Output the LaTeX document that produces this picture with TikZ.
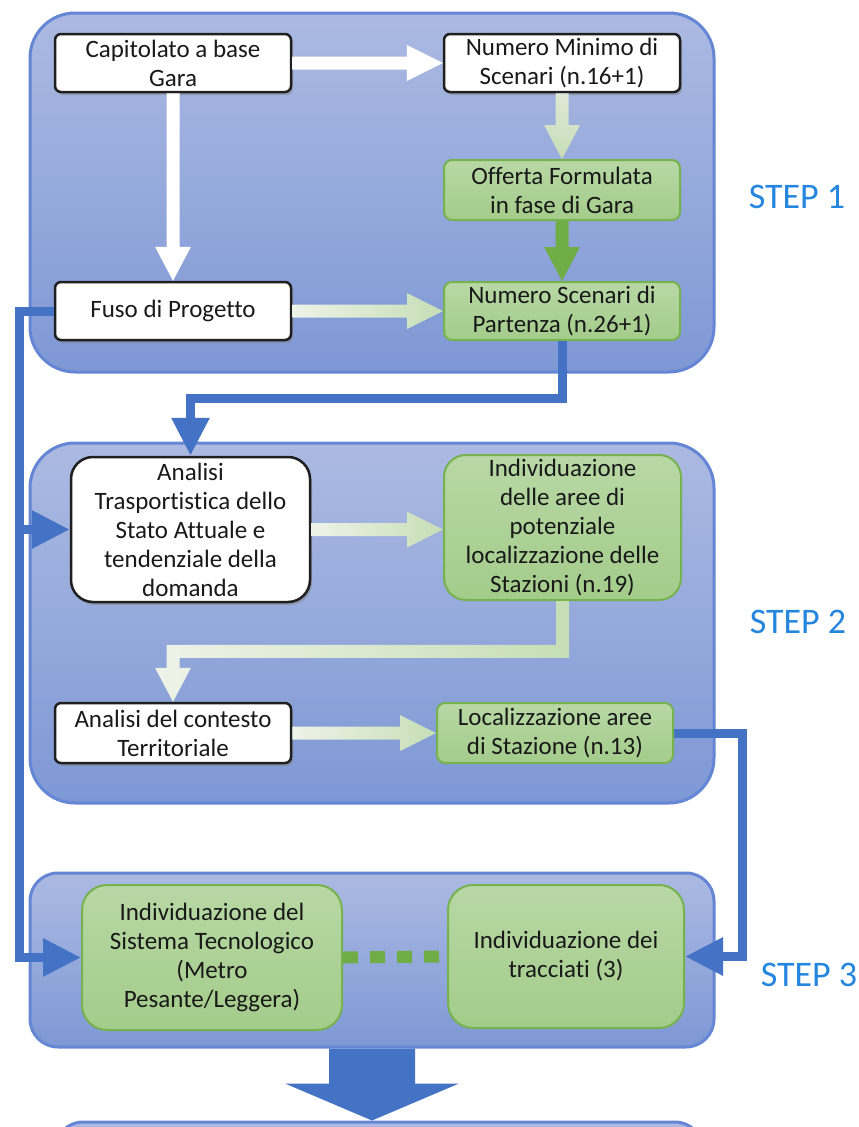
\documentclass[tikz,border=0pt]{standalone}
\usepackage{fontspec}
\setmainfont{Carlito}[Ligatures=NoCommon]
\usetikzlibrary{arrows.meta,calc,shadows}

\definecolor{bline}{RGB}{68,114,196}
\definecolor{ptop}{RGB}{172,186,226}
\definecolor{pbot}{RGB}{126,152,213}
\definecolor{pborder}{RGB}{100,134,212}
\definecolor{gtop}{RGB}{184,216,165}
\definecolor{gbot}{RGB}{163,204,138}
\definecolor{gborder}{RGB}{118,178,78}
\definecolor{gdark}{RGB}{112,173,71}
\definecolor{steptxt}{RGB}{36,134,222}
\definecolor{paleg}{RGB}{238,243,232}
\definecolor{midg}{RGB}{198,222,182}
\definecolor{topg}{RGB}{222,232,214}
\definecolor{txtc}{RGB}{25,25,25}

\newcommand\hfat[4]{\shade[left color=#3,right color=#4] let \p1=(#1.east),\p2=(#2.west) in (\x1,\y1+6.5pt) -- (\x2-36pt,\y1+6.5pt) -- (\x2-36pt,\y1+18pt) -- (\x2,\y1) -- (\x2-36pt,\y1-18pt) -- (\x2-36pt,\y1-6.5pt) -- (\x1,\y1-6.5pt) -- cycle;}
\newcommand\vfat[4]{\shade[top color=#3,bottom color=#4] let \p1=(#1.south),\p2=(#2.north) in (\x1-6.5pt,\y1) -- (\x1-6.5pt,\y2+34pt) -- (\x1-18pt,\y2+34pt) -- (\x1,\y2) -- (\x1+18pt,\y2+34pt) -- (\x1+6.5pt,\y2+34pt) -- (\x1+6.5pt,\y1) -- cycle;}

\begin{document}
\begin{tikzpicture}[x=1pt,y=-1pt,
  panel/.style={draw=pborder, line width=3pt, top color=ptop, bottom color=pbot, rounded corners=45pt, inner sep=0pt},
  txt/.style={font=\fontsize{25}{29}\selectfont, align=center, text=txtc, inner sep=0pt},
  whitebox/.style={txt, draw=black!88, line width=2.5pt, fill=white, rounded corners=6pt,
     drop shadow={shadow xshift=2pt, shadow yshift=-3pt, opacity=0.45}},
  greenbox/.style={txt, draw=gborder, line width=2pt, top color=gtop, bottom color=gbot, rounded corners=8pt},
  bluearrow/.style={draw=bline, line width=9pt, -{Triangle[width=36pt,length=38pt]}},
  steplbl/.style={font=\fontsize{36}{42}\selectfont, text=steptxt, inner sep=0pt}
]
\useasboundingbox (0,0) rectangle (859,1127);
\begin{scope}
\clip (0,0) rectangle (859,1127);

% panels
\node[panel, minimum width=684pt, minimum height=359pt] (p1) at (372,192.5) {};
\node[panel, minimum width=684pt, minimum height=360pt] (p2) at (372,623) {};
\node[panel, rounded corners=28pt, minimum width=684pt, minimum height=174pt] (p3) at (372,960) {};
\node[panel, rounded corners=28pt, minimum width=648pt, minimum height=178pt] (p4) at (379,1211) {};

% step labels
\node[steplbl] (s1) at (797,197) {STEP 1};
\node[steplbl] (s2) at (798,622) {STEP 2};
\node[steplbl] (s3) at (809,975) {STEP 3};

% step 1 nodes
\node[whitebox, minimum width=236pt, minimum height=58pt] (cap) at (173,63) {Capitolato a base\\Gara};
\node[whitebox, minimum width=236pt, minimum height=58pt] (nmin) at (562,63) {Numero Minimo di\\Scenari (n.16+1)};
\node[greenbox, minimum width=236pt, minimum height=60pt] (off) at (562,190) {Offerta Formulata\\in fase di Gara};
\node[whitebox, minimum width=236pt, minimum height=58pt] (fuso) at (173,311) {Fuso di Progetto};
\node[greenbox, minimum width=236pt, minimum height=58pt] (nsp) at (562,311) {Numero Scenari di\\Partenza (n.26+1)};

% step 2 nodes
\node[whitebox, rounded corners=22pt, minimum width=239pt, minimum height=145pt] (ana) at (190.5,529.5) {Analisi\\Trasportistica dello\\Stato Attuale e\\tendenziale della\\domanda};
\node[greenbox, rounded corners=22pt, minimum width=237pt, minimum height=145pt] (ind) at (562.5,527.5) {Individuazione\\delle aree di\\potenziale\\localizzazione delle\\Stazioni (n.19)};
\node[whitebox, minimum width=236pt, minimum height=60pt] (con) at (173,733) {Analisi del contesto\\Territoriale};
\node[greenbox, minimum width=236pt, minimum height=60pt] (loc) at (555,733) {Localizzazione aree\\di Stazione (n.13)};

% step 3 nodes
\node[greenbox, rounded corners=25pt, minimum width=260pt, minimum height=145pt] (sis) at (212,957.5) {Individuazione del\\Sistema Tecnologico\\(Metro\\Pesante/Leggera)};
\node[greenbox, rounded corners=25pt, minimum width=236pt, minimum height=143pt] (tra) at (566,956.5) {Individuazione dei\\tracciati (3)};

% fat arrows step 1
\hfat{cap}{nmin}{white}{white}
\vfat{cap}{fuso}{white}{white}
\vfat{nmin}{off}{topg}{midg}
\vfat{off}{nsp}{gdark}{gdark}
\hfat{fuso}{nsp}{paleg}{midg}

% fat arrows step 2
\hfat{ana}{ind}{paleg}{midg}
\hfat{con}{loc}{paleg}{midg}
\shade[left color=paleg, right color=midg] let \p1=(ind.south), \p2=(con.north), \p3=($(ind.south)!0.5!(con.north)$) in
  (\x1+6.5pt,\y1) -- (\x1+6.5pt,\y3-6.5pt) -- (\x2+6.5pt,\y3-6.5pt) -- (\x2+6.5pt,\y2+34pt) -- (\x2+18pt,\y2+34pt) -- (\x2,\y2)
  -- (\x2-18pt,\y2+34pt) -- (\x2-6.5pt,\y2+34pt) -- (\x2-6.5pt,\y3+6.5pt) -- (\x1-6.5pt,\y3+6.5pt) -- (\x1-6.5pt,\y1) -- cycle;

% dotted link step 3
\draw[gdark, line width=12pt, dash pattern=on 15pt off 12pt] (sis.east) -- (tra.west);

% blue connectors
\coordinate (L) at (19,311);
\coordinate (R) at (742,733);
\draw[bluearrow] (fuso.west) -- (L) |- (sis.west);
\draw[bluearrow] (L) |- (ana.west);
\draw[bluearrow] (nsp.south) |- ($(nsp.south)!0.5!(ana.north)$) -| (ana.north);
\draw[bluearrow] (loc.east) -- (R) |- (tra.east);

% big down arrow
\fill[bline] let \p1=(p3.south), \p2=(p4.north) in
  (\x1-43pt,\y1) -- (\x1-43pt,\y2+37pt) -- (\x1-87pt,\y2+37pt) -- (\x1,\y2) -- (\x1+87pt,\y2+37pt) -- (\x1+43pt,\y2+37pt) -- (\x1+43pt,\y1) -- cycle;
\end{scope}
\end{tikzpicture}
\end{document}
